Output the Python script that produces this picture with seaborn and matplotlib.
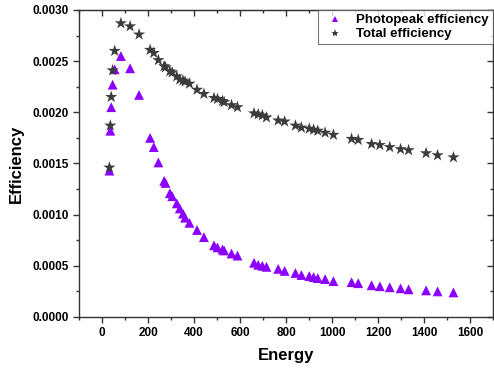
import pandas as pd
import numpy as np
import matplotlib
matplotlib.use("Agg")
import matplotlib.pyplot as plt
import seaborn as sns
from matplotlib.ticker import MultipleLocator

# data
energy = [32, 36, 40, 46, 55, 82, 122, 161, 209, 225, 245, 270, 276, 295, 305,
          325, 338, 352, 361, 380, 413, 443, 487, 502, 524, 531, 563, 589, 661,
          679, 697, 715, 766, 794, 841, 867, 901, 920, 938, 970, 1006, 1085,
          1114, 1172, 1208, 1251, 1298, 1333, 1409, 1459, 1528]

photopeak = [0.00143, 0.00182, 0.00205, 0.00227, 0.00242, 0.00255, 0.00243,
             0.00217, 0.00175, 0.00166, 0.00151, 0.00133, 0.00131, 0.00121,
             0.00118, 0.00111, 0.00106, 0.00101, 0.00097, 0.00092, 0.00085,
             0.00078, 0.00070, 0.00068, 0.00066, 0.00065, 0.00062, 0.00060,
             0.00053, 0.00051, 0.00050, 0.00049, 0.00047, 0.00045, 0.00043,
             0.00041, 0.00040, 0.00039, 0.00038, 0.00037, 0.00035, 0.00034,
             0.00033, 0.00031, 0.00030, 0.00029, 0.00028, 0.00027, 0.00026,
             0.00025, 0.00024]

total = [0.00146, 0.00187, 0.00215, 0.00241, 0.00260, 0.00287, 0.00284,
         0.00276, 0.00261, 0.00258, 0.00251, 0.00245, 0.00244, 0.00240,
         0.00239, 0.00235, 0.00232, 0.00231, 0.00230, 0.00228, 0.00222,
         0.00218, 0.00214, 0.00213, 0.00211, 0.00210, 0.00207, 0.00205,
         0.00199, 0.00198, 0.00197, 0.00195, 0.00192, 0.00191, 0.00187,
         0.00185, 0.00184, 0.00183, 0.00182, 0.00180, 0.00178, 0.00174,
         0.00173, 0.00169, 0.00168, 0.00166, 0.00164, 0.00163, 0.00160,
         0.00158, 0.00156]

series_names = ["Photopeak efficiency", "Total efficiency"]

df = pd.DataFrame({
    "Energy": energy * 2,
    "Efficiency": photopeak + total,
    "Series": [series_names[0]] * len(energy) + [series_names[1]] * len(energy),
})

sns.set_style("ticks")
plt.rcParams['font.family'] = ['Liberation Sans', 'DejaVu Sans']
plt.rcParams['font.weight'] = 'bold'
plt.rcParams['text.color'] = 'black'
plt.rcParams['axes.labelcolor'] = 'black'
plt.rcParams['xtick.labelcolor'] = 'black'
plt.rcParams['ytick.labelcolor'] = 'black'

fig = plt.figure(figsize=(4.94, 3.69), dpi=100)
ax = fig.add_axes([0.16, 0.141, 0.838, 0.832])

sns.scatterplot(data=df, x="Energy", y="Efficiency", hue="Series", style="Series",
                size="Series",
                palette={series_names[0]: "#8B00FF", series_names[1]: "#3C3C3C"},
                markers={series_names[0]: "^", series_names[1]: "*"},
                sizes={series_names[0]: 50, series_names[1]: 85},
                linewidth=0, ax=ax, legend=True)

ax.set_xlim(-100, 1700)
ax.set_ylim(0, 0.0030)
ax.set_xticks(np.arange(0, 1601, 200))
ax.xaxis.set_minor_locator(MultipleLocator(100))
ax.yaxis.set_major_locator(MultipleLocator(0.0005))
ax.yaxis.set_minor_locator(MultipleLocator(0.00025))
ax.yaxis.set_major_formatter(matplotlib.ticker.FormatStrFormatter('%.4f'))

for side in ["top", "right", "left", "bottom"]:
    ax.spines[side].set_visible(True)
    ax.spines[side].set_color("#333333")
    ax.spines[side].set_linewidth(1.0)

ax.tick_params(which="major", direction="out", length=4, width=1, color="#333333",
               labelsize=8.5, top=False, right=False)
ax.tick_params(which="minor", direction="out", length=2.5, width=1, color="#333333",
               top=False, right=False)
ax.set_xlabel("Energy", fontsize=12, fontweight="bold", labelpad=6)
ax.set_ylabel("Efficiency", fontsize=12, fontweight="bold", labelpad=6)

# mirrored inward ticks on top and right
sec_x = ax.secondary_xaxis("top")
sec_x.set_xticks(np.arange(0, 1601, 200))
sec_x.xaxis.set_minor_locator(MultipleLocator(100))
sec_x.tick_params(which="major", direction="in", length=4, width=1, color="#333333", labeltop=False)
sec_x.tick_params(which="minor", direction="in", length=2.5, width=1, color="#333333")
sec_y = ax.secondary_yaxis("right")
sec_y.yaxis.set_major_locator(MultipleLocator(0.0005))
sec_y.yaxis.set_minor_locator(MultipleLocator(0.00025))
sec_y.tick_params(which="major", direction="in", length=4, width=1, color="#333333", labelright=False)
sec_y.tick_params(which="minor", direction="in", length=2.5, width=1, color="#333333")
for sec in (sec_x, sec_y):
    for sp in sec.spines.values():
        sp.set_color("#333333")

leg = ax.legend(loc="upper right", bbox_to_anchor=(1.0, 1.0), fontsize=9.5,
                frameon=True, fancybox=False, borderpad=0.3, labelspacing=0.15,
                handletextpad=0.6, borderaxespad=0, markerscale=0.65)
leg.get_frame().set_edgecolor("#555555")
leg.get_frame().set_linewidth(0.8)
for t in leg.get_texts():
    t.set_fontweight("bold")
    t.set_color("black")

fig.savefig("out.png", dpi=100)
